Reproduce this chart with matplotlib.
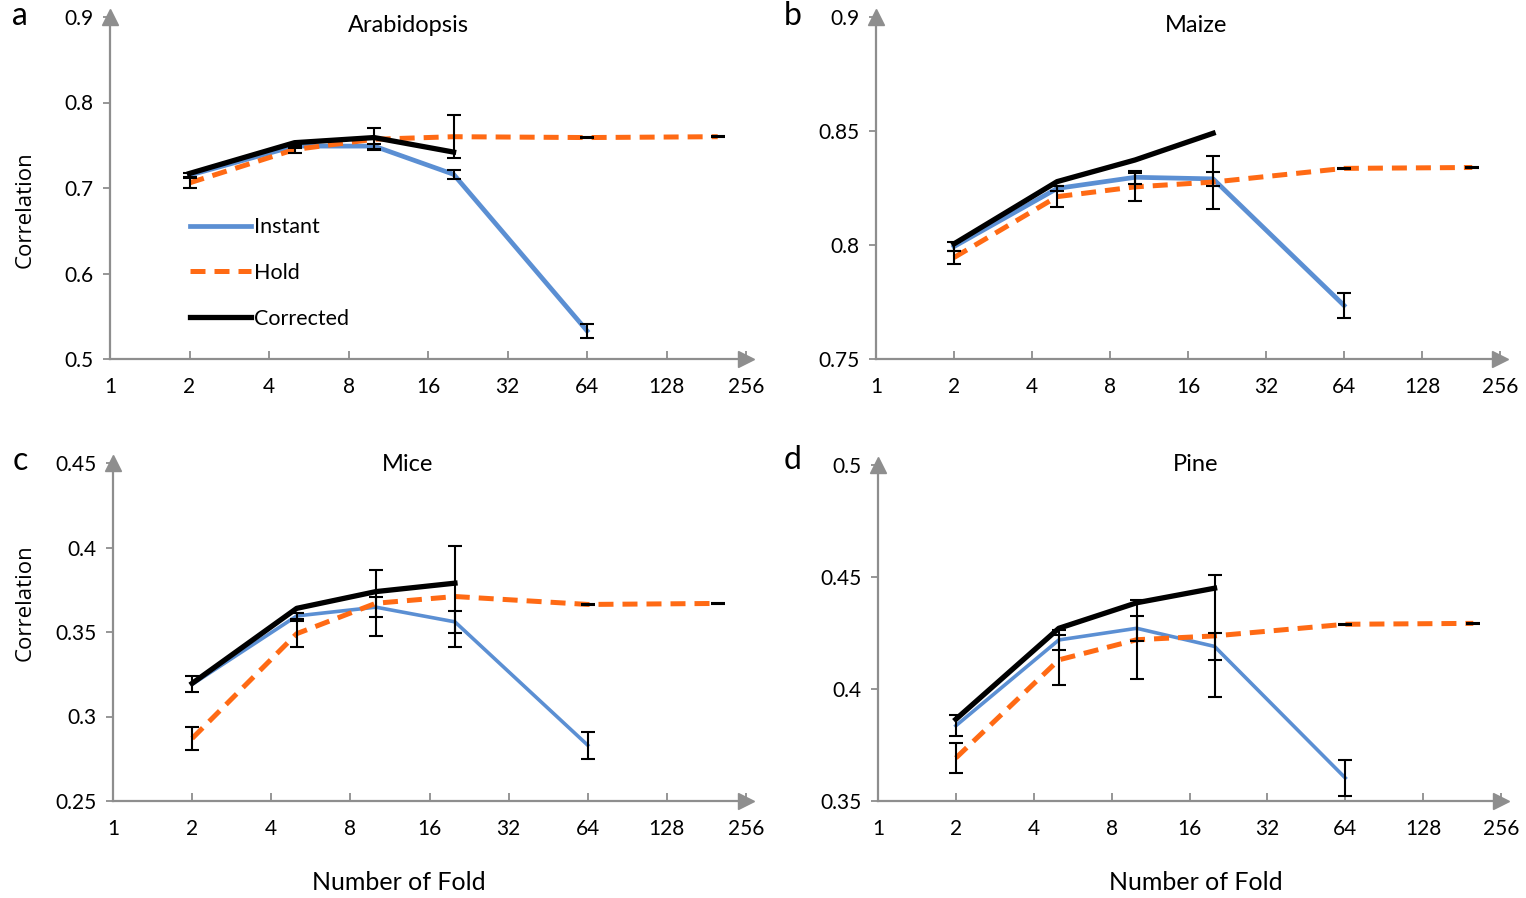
import numpy as np
import matplotlib.pyplot as plt

plt.rcParams['font.family'] = ['Lato', 'DejaVu Sans']

# --- data ---
instant_x = [2, 5, 10, 20, 64]
hold_x = [2, 5, 10, 20, 64, 200]
corrected_x = [2, 5, 10, 20]

arab_instant = [0.715, 0.749, 0.749, 0.716, 0.533]
arab_instant_err = [0.002, 0.002, 0.003, 0.005, 0.008]
arab_hold = [0.706, 0.745, 0.757, 0.760, 0.759, 0.760]
arab_hold_err = [0.0055, 0.0045, 0.013, 0.025, 0.0005, 0.0005]
arab_corrected = [0.717, 0.753, 0.759, 0.742]

maize_instant = [0.7993, 0.8248, 0.8297, 0.8290, 0.7735]
maize_instant_err = [0.002, 0.001, 0.0028, 0.003, 0.0056]
maize_hold = [0.7945, 0.8212, 0.8255, 0.8276, 0.8336, 0.834]
maize_hold_err = [0.0027, 0.0045, 0.006, 0.0116, 0.0003, 0.0003]
maize_corrected = [0.8005, 0.8278, 0.8373, 0.849]

mice_instant = [0.319, 0.3595, 0.3647, 0.356, 0.283]
mice_instant_err = [0.0047, 0.002, 0.006, 0.0066, 0.008]
mice_hold = [0.287, 0.349, 0.367, 0.371, 0.3663, 0.3669]
mice_hold_err = [0.007, 0.0078, 0.0195, 0.030, 0.0003, 0.0003]
mice_corrected = [0.3196, 0.364, 0.3739, 0.3789]

pine_instant = [0.3836, 0.4219, 0.4271, 0.419, 0.3603]
pine_instant_err = [0.0047, 0.0046, 0.0056, 0.006, 0.0082]
pine_hold = [0.3692, 0.413, 0.422, 0.4237, 0.4289, 0.4293]
pine_hold_err = [0.0068, 0.011, 0.0176, 0.0272, 0.0003, 0.0003]
pine_corrected = [0.3865, 0.4271, 0.4385, 0.445]

titles = ['Arabidopsis', 'Maize', 'Mice', 'Pine']
letters = ['a', 'b', 'c', 'd']
x_ticks = [1, 2, 4, 8, 16, 32, 64, 128, 256]
y_ticks = [[0.5, 0.6, 0.7, 0.8, 0.9],
           [0.75, 0.8, 0.85, 0.9],
           [0.25, 0.3, 0.35, 0.4, 0.45],
           [0.35, 0.4, 0.45, 0.5]]

panels = [
    (arab_instant, arab_instant_err, arab_hold, arab_hold_err, arab_corrected),
    (maize_instant, maize_instant_err, maize_hold, maize_hold_err, maize_corrected),
    (mice_instant, mice_instant_err, mice_hold, mice_hold_err, mice_corrected),
    (pine_instant, pine_instant_err, pine_hold, pine_hold_err, pine_corrected),
]

# --- layout (figure fractions) ---
W, H = 1526, 898
boxes = [(110, 746, 17, 359), (876, 1500, 17, 359),
         (113, 746, 463, 801), (878, 1501, 465, 801)]
title_pos = [(408, 25), (1196, 25), (408, 464), (1196, 464)]
letter_pos = [(20, 16), (793, 16), (20, 461), (793, 460)]
blue_lw = [3.4, 3.4, 2.6, 2.6]

BLUE = '#5b8fd3'
ORANGE = '#ff6a14'
GRAY = '#8e8e8e'

fig = plt.figure(figsize=(W / 100, H / 100), dpi=100)

for i, (inst, inst_err, hold, hold_err, corr) in enumerate(panels):
    l, r, t, b = boxes[i]
    ax = fig.add_axes([l / W, 1 - b / H, (r - l) / W, (b - t) / H])

    ax.plot(instant_x, inst, color=BLUE, lw=blue_lw[i], label='Instant', zorder=3)
    ax.plot(hold_x, hold, color=ORANGE, lw=3.6, ls=(0, (3.0, 1.8)), label='Hold', zorder=4)
    ax.plot(corrected_x, corr, color='black', lw=3.8, label='Corrected', zorder=5)
    ax.errorbar(instant_x, inst, yerr=inst_err, fmt='none', ecolor='black',
                elinewidth=1.5, capsize=4.8, capthick=1.5, zorder=6)
    ax.errorbar(hold_x, hold, yerr=hold_err, fmt='none', ecolor='black',
                elinewidth=1.5, capsize=4.8, capthick=1.5, zorder=6)

    ax.set_xscale('log', base=2)
    ax.set_xlim(1, 256)
    ax.set_xticks(x_ticks)
    ax.set_xticklabels([str(v) for v in x_ticks])
    ax.minorticks_off()
    yt = y_ticks[i]
    ax.set_ylim(yt[0], yt[-1])
    ax.set_yticks(yt)
    ax.set_yticklabels(['{:g}'.format(v) for v in yt])

    for s in ['top', 'right']:
        ax.spines[s].set_visible(False)
    for s in ['left', 'bottom']:
        ax.spines[s].set_color(GRAY)
        ax.spines[s].set_linewidth(1.6)
    ax.tick_params(axis='x', direction='in', length=6, width=1.3, color=GRAY,
                   labelsize=15, pad=13)
    ax.tick_params(axis='y', direction='out', length=5, width=1.3, color=GRAY,
                   labelsize=15, pad=7)

    # arrow heads
    ax.plot([1.0], [0.0], marker='>', ms=11, color=GRAY, transform=ax.transAxes,
            clip_on=False, zorder=2)
    ax.plot([0.0], [1.0], marker='^', ms=11, color=GRAY, transform=ax.transAxes,
            clip_on=False, zorder=2)

    tx, ty = title_pos[i]
    fig.text(tx / W, 1 - ty / H, titles[i], ha='center', va='center', fontsize=17)
    lx, ly = letter_pos[i]
    fig.text(lx / W, 1 - ly / H, letters[i], ha='center', va='center', fontsize=23)

    if i == 0:
        ax.legend(loc='upper left', bbox_to_anchor=(0.125, 0.415), frameon=False,
                  fontsize=15.5, handlelength=2.85, handletextpad=0.15,
                  labelspacing=1.2, borderpad=0, borderaxespad=0)

for yy in [210, 603]:
    fig.text(25 / W, 1 - yy / H, 'Correlation', rotation=90, ha='center', va='center',
             fontsize=16, family=['Open Sans', 'DejaVu Sans'])
for xx in [399, 1196]:
    fig.text(xx / W, 1 - 883 / H, 'Number of Fold', ha='center', va='center', fontsize=18)

fig.savefig('out.png', dpi=100)
